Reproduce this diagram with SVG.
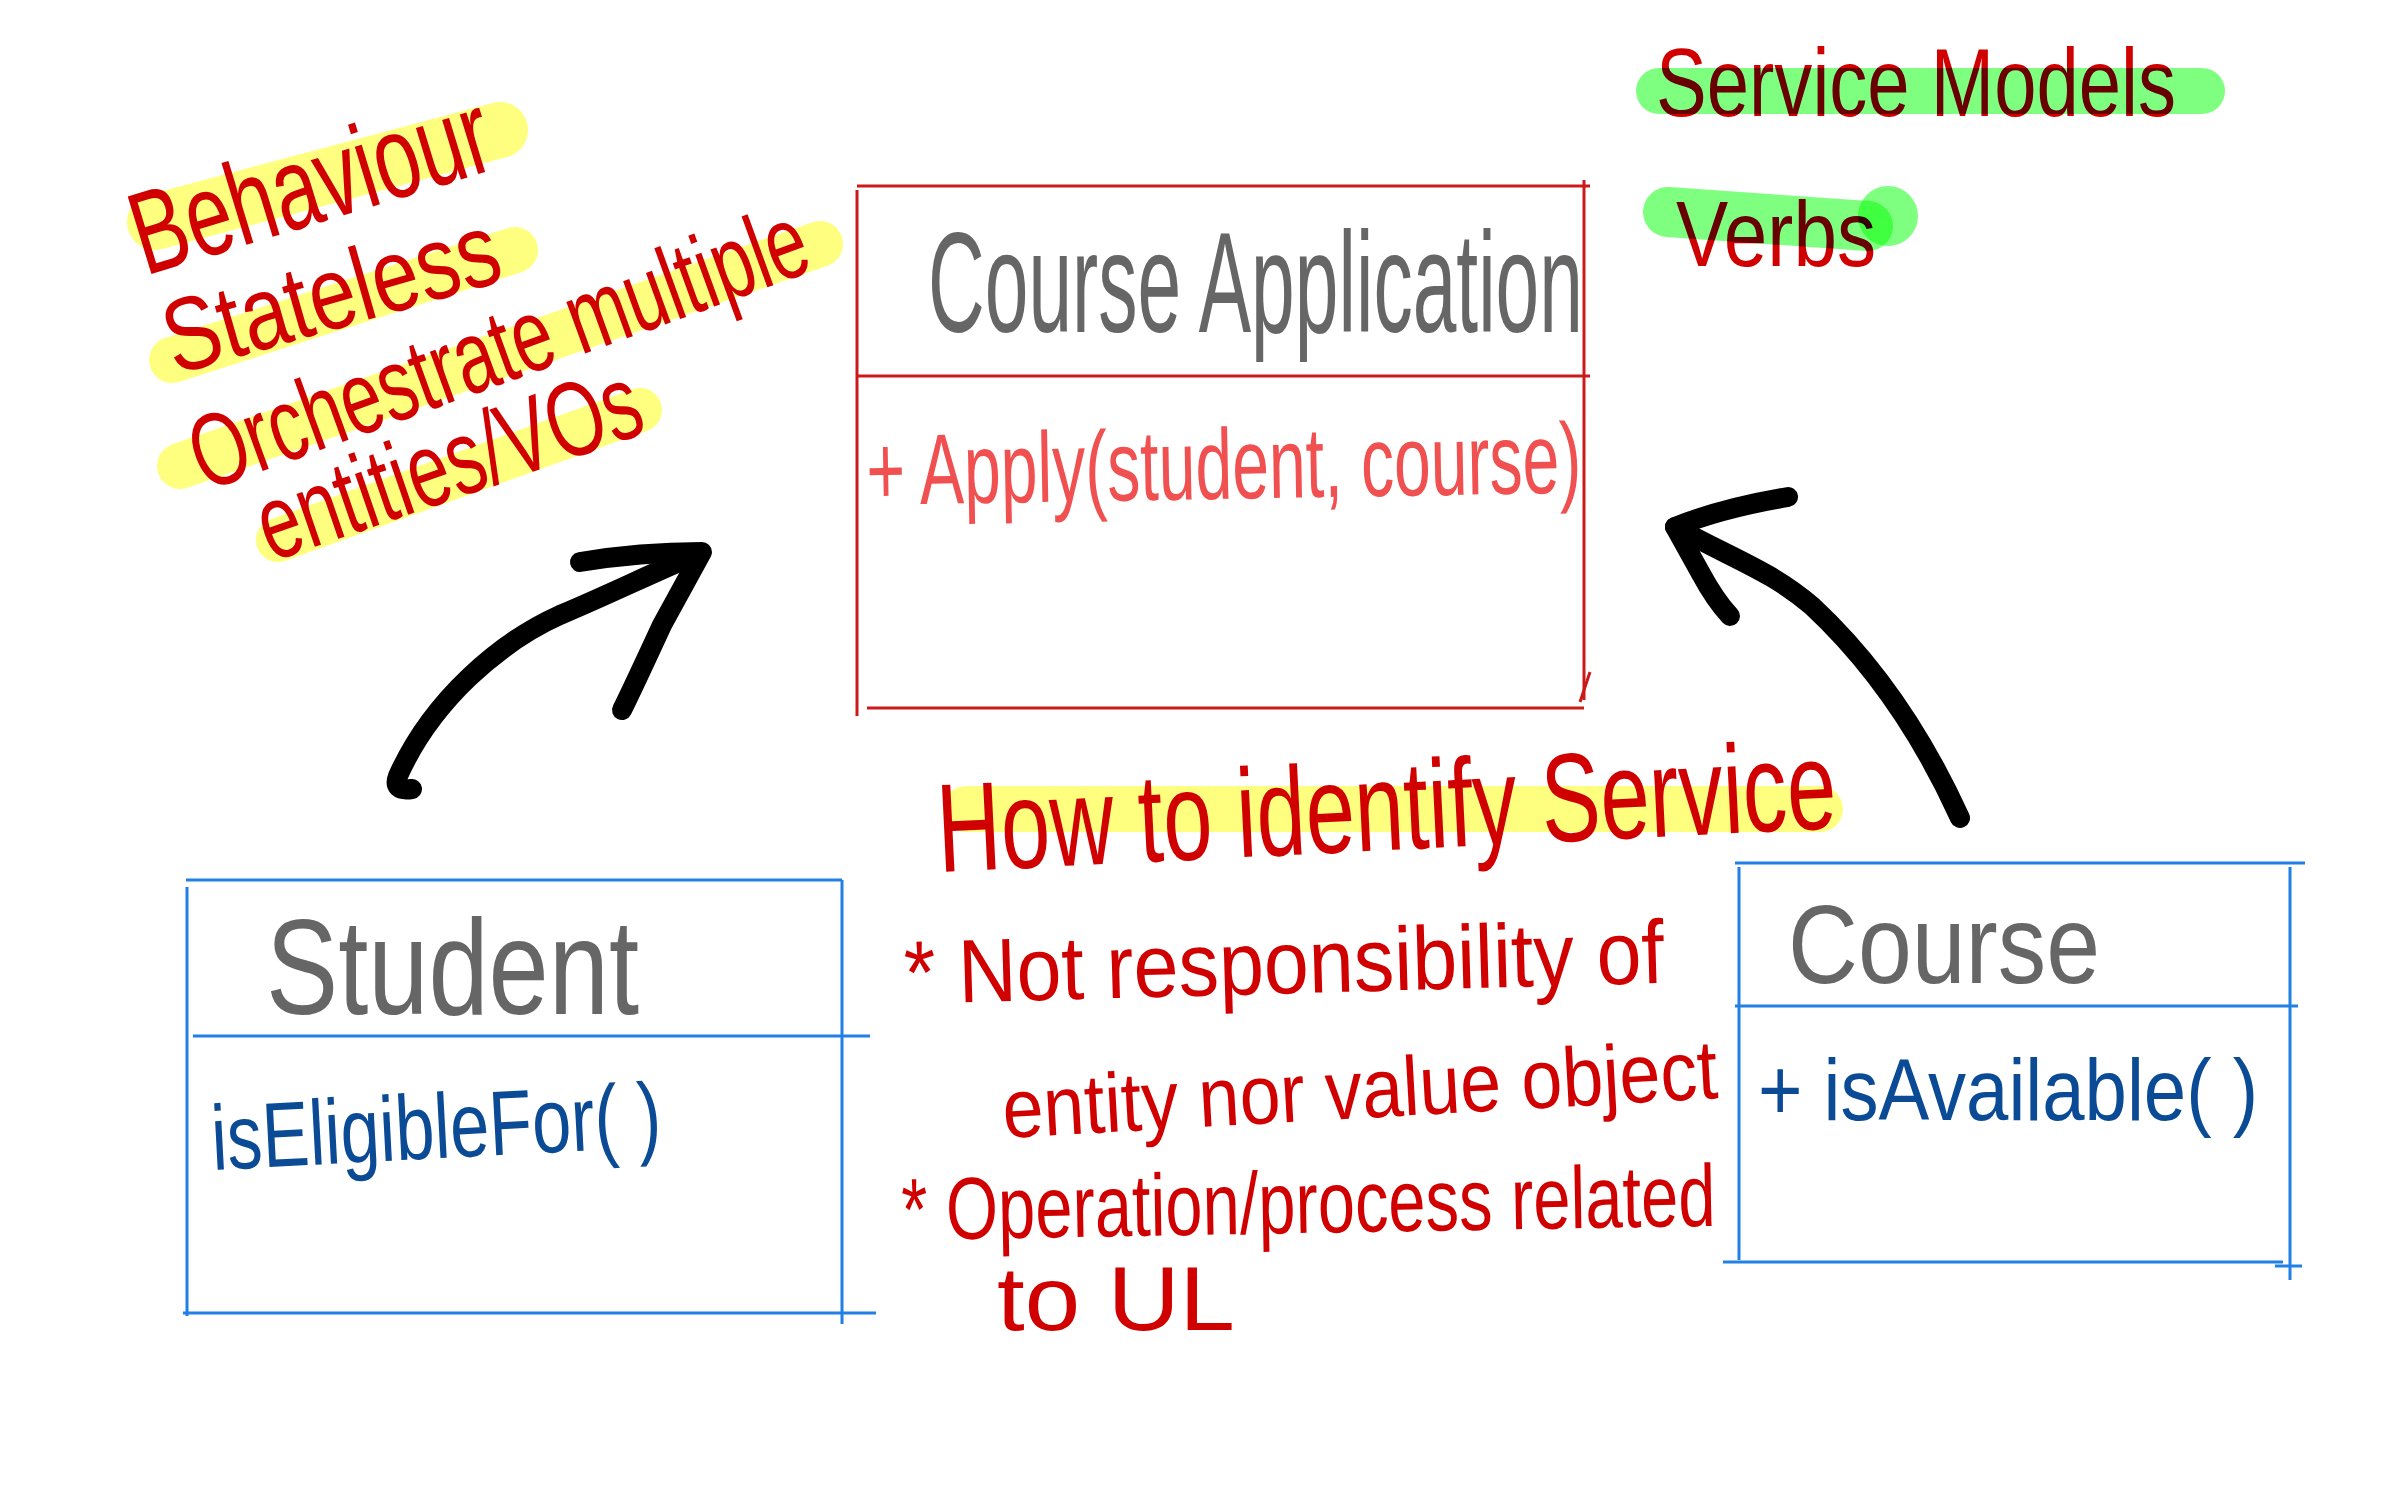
<svg xmlns="http://www.w3.org/2000/svg" width="2386" height="1491" viewBox="0 0 2386 1491">
<style>
text{font-family:"Liberation Sans Narrow","Liberation Sans",Arial,sans-serif}
.red{fill:#d10000}
.gray{fill:#666666}
.salmon{fill:#f05050}
.blue{fill:#0b4a94}
.rline{stroke:#cc1a1a;stroke-width:3;fill:none}
.bline{stroke:#2080e6;stroke-width:3;fill:none}
.yhl{stroke:#ffff00;stroke-opacity:0.5;stroke-linecap:round;fill:none}
.ghl{stroke:#00ff00;stroke-opacity:0.5;stroke-linecap:round;fill:none;mix-blend-mode:multiply}
.arrow{stroke:#000;stroke-width:20;stroke-linecap:round;stroke-linejoin:round;fill:none}
</style>
<rect x="0" y="0" width="2386" height="1491" fill="#ffffff"/>

<g id="note-behaviour">
  <line class="yhl" x1="155" y1="222" x2="500" y2="130" stroke-width="56"/>
  <line class="yhl" x1="172" y1="360" x2="515" y2="250" stroke-width="46"/>
  <line class="yhl" x1="180" y1="466" x2="820" y2="244" stroke-width="46"/>
  <line class="yhl" x1="278" y1="540" x2="640" y2="410" stroke-width="44"/>
  <text class="red" font-size="118" textLength="370" lengthAdjust="spacingAndGlyphs" transform="translate(145,276) rotate(-17)">Behaviour</text>
  <text class="red" font-size="104" textLength="345" lengthAdjust="spacingAndGlyphs" transform="translate(175,375) rotate(-16)">Stateless</text>
  <text class="red" font-size="104" textLength="650" lengthAdjust="spacingAndGlyphs" transform="translate(205,492) rotate(-20)">Orchestrate multiple</text>
  <text class="red" font-size="106" textLength="400" lengthAdjust="spacingAndGlyphs" transform="translate(271,562) rotate(-19)">entities/VOs</text>
</g>

<g id="note-service-models">
  <text class="red" font-size="96" textLength="520" lengthAdjust="spacingAndGlyphs" x="1656" y="116">Service Models</text>
  <text class="red" font-size="92" textLength="200" lengthAdjust="spacingAndGlyphs" x="1676" y="266">Verbs</text>
  <line class="ghl" x1="1659" y1="91" x2="2202" y2="91" stroke-width="46"/>
  <line class="ghl" x1="1668" y1="212" x2="1868" y2="226" stroke-width="50"/>
  <circle cx="1888" cy="216" r="30" fill="#00ff00" fill-opacity="0.5" style="mix-blend-mode:multiply"/>
</g>

<g id="node-course-application">
  <line class="rline" x1="857" y1="186" x2="1590" y2="186"/>
  <line class="rline" x1="857" y1="190" x2="857" y2="716"/>
  <line class="rline" x1="1584" y1="180" x2="1584" y2="700"/>
  <line class="rline" x1="857" y1="376" x2="1590" y2="376"/>
  <line class="rline" x1="867" y1="708" x2="1584" y2="708"/>
  <line class="rline" x1="1580" y1="702" x2="1590" y2="672"/>
  <text class="gray" font-size="142" textLength="655" lengthAdjust="spacingAndGlyphs" x="928" y="332">Course Application</text>
  <text class="salmon" font-size="100" textLength="715" lengthAdjust="spacingAndGlyphs" transform="translate(867,505) rotate(-1)">+ Apply(student, course)</text>
</g>

<g id="node-student">
  <line class="bline" x1="186" y1="880" x2="842" y2="880"/>
  <line class="bline" x1="187" y1="887" x2="187" y2="1316"/>
  <line class="bline" x1="842" y1="880" x2="842" y2="1324"/>
  <line class="bline" x1="193" y1="1036" x2="870" y2="1036"/>
  <line class="bline" x1="183" y1="1313" x2="876" y2="1313"/>
  <text class="gray" font-size="136" textLength="373" lengthAdjust="spacingAndGlyphs" x="266" y="1014">Student</text>
  <text class="blue" font-size="92" textLength="450" lengthAdjust="spacingAndGlyphs" transform="translate(213,1170) rotate(-3)">isEligibleFor( )</text>
</g>

<g id="node-course">
  <line class="bline" x1="1735" y1="863" x2="2305" y2="863"/>
  <line class="bline" x1="1739" y1="867" x2="1739" y2="1260"/>
  <line class="bline" x1="2290" y1="867" x2="2290" y2="1280"/>
  <line class="bline" x1="1735" y1="1006" x2="2298" y2="1006"/>
  <line class="bline" x1="1723" y1="1262" x2="2283" y2="1262"/>
  <line class="bline" x1="2275" y1="1266" x2="2302" y2="1266"/>
  <text class="gray" font-size="112" textLength="312" lengthAdjust="spacingAndGlyphs" x="1788" y="983">Course</text>
  <text class="blue" font-size="88" textLength="500" lengthAdjust="spacingAndGlyphs" x="1758" y="1120">+ isAvailable( )</text>
</g>

<g id="note-how-to">
  <line class="yhl" x1="966" y1="809" x2="1820" y2="809" stroke-width="46"/>
  <text class="red" font-size="126" textLength="900" lengthAdjust="spacingAndGlyphs" transform="translate(939,872) rotate(-2.8)">How to identify Service</text>
  <text class="red" font-size="90" textLength="760" lengthAdjust="spacingAndGlyphs" transform="translate(905,1004) rotate(-1.6)">* Not responsibility of</text>
  <text class="red" font-size="84" textLength="716" lengthAdjust="spacingAndGlyphs" transform="translate(1004,1138) rotate(-3.2)">entity nor value object</text>
  <text class="red" font-size="88" textLength="814" lengthAdjust="spacingAndGlyphs" transform="translate(902,1240) rotate(-1)">* Operation/process related</text>
  <text class="red" font-size="90" textLength="238" lengthAdjust="spacingAndGlyphs" x="997" y="1330">to UL</text>
</g>

<g id="connectors">
  <path class="arrow" d="M412,789 Q392,792 398,776 C432,700 500,642 560,615 C610,594 650,574 700,553"/>
  <path class="arrow" d="M580,562 Q640,552 702,552 L662,625 Q632,690 622,710"/>
  <path class="arrow" d="M1960,818 C1920,730 1870,660 1812,606 C1772,572 1740,562 1675,527"/>
  <path class="arrow" d="M1788,497 Q1722,508 1675,527 L1700,572 Q1715,600 1730,616"/>
</g>
</svg>
